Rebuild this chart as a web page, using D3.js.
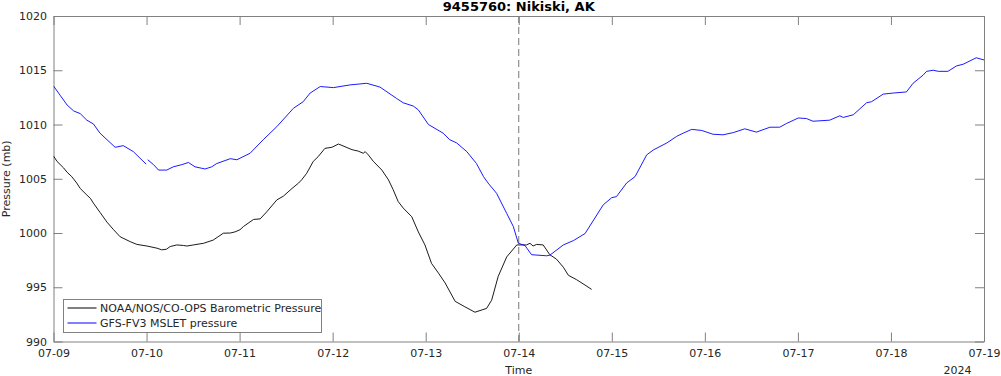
<!DOCTYPE html>
<html>
<head>
<meta charset="utf-8">
<script src="https://cdn.jsdelivr.net/npm/d3@7"></script>
<style>
  body { margin: 0; background: #fff; }
  svg { display: block; font-family: "DejaVu Sans", sans-serif; }
</style>
</head>
<body>
<div id="chart"></div>
<script>
// Series values: hours after 2024-07-09 00:00 UTC, pressure in mb
let obsHours = [0, 0.9, 2.6, 3.5, 4.7, 6.0, 6.9, 8.6, 9.5, 10.3, 12.0, 13.8, 15.5, 17.2,
  19.8, 21.5, 24.1, 26.7, 27.9, 29.1, 30.1, 31.8, 33.5, 34.4, 36.1, 37.8, 38.7, 41.2,
  43.8, 45.6, 46.8, 48.1, 49.0, 51.6, 53.3, 55.0, 57.6, 59.3, 61.5, 63.2, 64.0, 65.3,
  67.0, 68.3, 70.0, 71.8, 73.5, 75.2, 76.5, 77.3, 78.6, 79.9, 80.4, 81.2, 82.5, 84.7,
  86.4, 87.6, 88.9, 90.2, 92.4, 94.1, 95.8, 97.5, 99.3, 101.0, 103.6, 106.1, 108.7,
  111.7, 113.0, 114.7, 116.9, 119.5, 122.0, 122.9, 123.7, 124.6, 126.3, 128.0, 129.7,
  131.5, 132.8, 134.9, 137.1, 138.8];
let obsValues = [1007.1, 1006.6, 1006.0, 1005.6, 1005.2, 1004.6, 1004.1, 1003.5, 1003.2,
  1002.75, 1001.9, 1001.0, 1000.3, 999.65, 999.2, 998.95, 998.8, 998.6, 998.45, 998.5,
  998.75, 998.9, 998.85, 998.8, 998.9, 999.0, 999.05, 999.35, 999.98, 1000.0, 1000.1,
  1000.3, 1000.6, 1001.25, 1001.3, 1001.95, 1003.05, 1003.4, 1004.1, 1004.6, 1004.9,
  1005.5, 1006.6, 1007.05, 1007.8, 1007.9, 1008.2, 1007.95, 1007.75, 1007.65, 1007.55,
  1007.35, 1007.5, 1007.2, 1006.6, 1005.8, 1004.9, 1004.0, 1002.9, 1002.3, 1001.5,
  1000.1, 998.9, 997.2, 996.3, 995.4, 993.7, 993.2, 992.7, 993.05, 993.8, 996.0, 997.8,
  998.9, 998.9, 999.05, 998.8, 998.95, 998.9, 998.0, 997.6, 996.85, 996.1, 995.7, 995.2,
  994.8];

let modelHours = [0, 1.7, 3.5, 5.2, 6.9, 8.6, 10.3, 12.0, 13.8, 15.9, 18.0, 20.6, 22.3,
  23.9, 24.0, 24.3, 25.8, 27.1, 29.2, 30.9, 33.1, 34.8, 36.5, 39.1, 40.8, 42.1, 45.6,
  47.3, 50.7, 54.1, 57.6, 61.9, 64.4, 66.2, 68.8, 72.2, 76.5, 80.8, 84.2, 88.5, 90.2,
  92.8, 94.1, 96.7, 100.5, 102.2, 104.0, 106.6, 109.1, 110.9, 112.1, 114.3, 116.9,
  118.6, 119.9, 121.6, 123.3, 127.2, 128.0, 131.5, 134.1, 137.1, 141.8, 144.0, 145.2,
  147.8, 150.0, 153.0, 154.7, 158.2, 160.7, 162.4, 164.6, 167.2, 170.1, 172.7, 175.3,
  178.3, 181.3, 184.8, 187.3, 189.1, 192.1, 194.2, 195.9, 200.2, 202.8, 203.7, 206.3,
  209.7, 211.0, 214.0, 216.6, 220.0, 221.7, 224.3, 225.2, 226.9, 228.2, 230.7, 232.9,
  234.6, 238.0, 240.0];
let modelValues = [1013.55, 1012.7, 1011.8, 1011.25, 1011.0, 1010.4, 1010.05, 1009.2,
  1008.6, 1007.9, 1008.05, 1007.5, 1006.9, 1006.35, null, 1006.75, 1006.3, 1005.8,
  1005.8, 1006.1, 1006.3, 1006.5, 1006.1, 1005.9, 1006.1, 1006.4, 1006.85, 1006.75,
  1007.35, 1008.6, 1009.8, 1011.5, 1012.1, 1012.9, 1013.5, 1013.4, 1013.65, 1013.8,
  1013.45, 1012.4, 1012.0, 1011.7, 1011.35, 1010.0, 1009.2, 1008.6, 1008.3, 1007.5,
  1006.4, 1005.2, 1004.6, 1003.65, 1001.8, 1000.6, 999.05, 998.85, 998.0, 997.9, 997.95,
  998.9, 999.3, 999.95, 1002.6, 1003.26, 1003.35, 1004.6, 1005.2, 1007.2, 1007.65,
  1008.3, 1008.9, 1009.2, 1009.55, 1009.45, 1009.1, 1009.05, 1009.25, 1009.6, 1009.3,
  1009.75, 1009.75, 1010.1, 1010.6, 1010.55, 1010.3, 1010.4, 1010.8, 1010.65, 1010.9,
  1012.0, 1012.1, 1012.8, 1012.9, 1013.0, 1013.8, 1014.55, 1014.9, 1015.0, 1014.9,
  1014.9, 1015.4, 1015.55, 1016.15, 1015.95];

let seriesNames = ["NOAA/NOS/CO-OPS Barometric Pressure", "GFS-FV3 MSLET pressure"];
let seriesColors = ["#000000", "#0000ff"];
let yTicks = [990, 995, 1000, 1005, 1010, 1015, 1020];
let titleText = "9455760: Nikiski, AK";
let nowcastDate = new Date(Date.UTC(2024, 6, 14));

let width = 1001;
let height = 376;
let margin = { top: 16, right: 17, bottom: 34.5, left: 53.5 };
let plotW = width - margin.left - margin.right;
let plotH = height - margin.top - margin.bottom;
let fontSize = "11px";

let start = new Date(Date.UTC(2024, 6, 9));
let end = new Date(Date.UTC(2024, 6, 19));
let toDate = (h) => new Date(start.getTime() + h * 3600 * 1000);

let obsData = obsHours.map((h, i) => ({ t: toDate(h), v: obsValues[i] }));
let modelData = modelHours.map((h, i) => ({ t: toDate(h), v: modelValues[i] }));

let svg = d3.select("#chart")
  .append("svg")
  .attr("width", width)
  .attr("height", height);

let g = svg.append("g")
  .attr("transform", "translate(" + margin.left + "," + margin.top + ")");

let x = d3.scaleUtc().domain([start, end]).range([0, plotW]);
let y = d3.scaleLinear().domain([990, 1020]).range([plotH, 0]);

let fmt = d3.utcFormat("%m-%d");
let dayTicks = d3.utcDay.range(start, d3.utcDay.offset(end, 1));

// axes, matlab style with inward ticks and a box
let axisColor = "#808080";
let textColor = "#262626";

function styleAxis(sel) {
  sel.selectAll("path, line").attr("stroke", axisColor);
  sel.selectAll("text")
    .attr("fill", textColor)
    .style("font-size", fontSize)
    .style("font-family", "DejaVu Sans, sans-serif");
}

g.append("g")
  .attr("transform", "translate(0," + plotH + ")")
  .call(d3.axisBottom(x).tickValues(dayTicks).tickFormat(fmt)
    .tickSizeInner(-9).tickSizeOuter(0).tickPadding(7.5))
  .call(styleAxis);

g.append("g")
  .call(d3.axisTop(x).tickValues(dayTicks).tickFormat("")
    .tickSizeInner(-9).tickSizeOuter(0))
  .call(styleAxis);

g.append("g")
  .call(d3.axisLeft(y).tickValues(yTicks).tickFormat(d3.format("d"))
    .tickSizeInner(-9).tickSizeOuter(0).tickPadding(6.5))
  .call(styleAxis);

g.append("g")
  .attr("transform", "translate(" + plotW + ",0)")
  .call(d3.axisRight(y).tickValues(yTicks).tickFormat("")
    .tickSizeInner(-9).tickSizeOuter(0))
  .call(styleAxis);

// nowcast / forecast divider
g.append("line")
  .attr("x1", x(nowcastDate)).attr("x2", x(nowcastDate))
  .attr("y1", 0).attr("y2", plotH)
  .attr("stroke", "#777")
  .attr("stroke-width", 1)
  .attr("stroke-dasharray", "7,4");

svg.append("clipPath").attr("id", "clip")
  .append("rect").attr("width", plotW + 1).attr("height", plotH);

let line = d3.line()
  .defined((d) => d.v !== null)
  .x((d) => x(d.t))
  .y((d) => y(d.v));

let lines = g.append("g").attr("clip-path", "url(#clip)");

lines.append("path")
  .datum(obsData)
  .attr("fill", "none")
  .attr("stroke", seriesColors[0])
  .attr("stroke-width", 0.9)
  .attr("d", line);

lines.append("path")
  .datum(modelData)
  .attr("fill", "none")
  .attr("stroke", seriesColors[1])
  .attr("stroke-width", 0.9)
  .attr("d", line);

// title and labels
svg.append("text")
  .attr("x", margin.left + plotW / 2)
  .attr("y", 11)
  .attr("text-anchor", "middle")
  .attr("fill", "#000")
  .style("font-size", "13px")
  .style("font-weight", "bold")
  .text(titleText);

svg.append("text")
  .attr("transform", "translate(10," + (margin.top + plotH / 2) + ") rotate(-90)")
  .attr("text-anchor", "middle")
  .attr("fill", textColor)
  .style("font-size", fontSize)
  .text("Pressure (mb)");

svg.append("text")
  .attr("x", margin.left + plotW / 2)
  .attr("y", 374)
  .attr("text-anchor", "middle")
  .attr("fill", textColor)
  .style("font-size", fontSize)
  .text("Time");

svg.append("text")
  .attr("x", 957.5)
  .attr("y", 374)
  .attr("text-anchor", "middle")
  .attr("fill", textColor)
  .style("font-size", fontSize)
  .text("2024");

// legend
let legend = svg.append("g").attr("transform", "translate(63.5,299.5)");
legend.append("rect")
  .attr("width", 258)
  .attr("height", 33)
  .attr("fill", "#fff")
  .attr("stroke", axisColor);

seriesNames.forEach((name, i) => {
  let ly = 8.5 + i * 15;
  legend.append("line")
    .attr("x1", 4).attr("x2", 33)
    .attr("y1", ly).attr("y2", ly)
    .attr("stroke", seriesColors[i]);
  legend.append("text")
    .attr("x", 36.5)
    .attr("y", ly)
    .attr("dy", "0.35em")
    .attr("fill", textColor)
    .style("font-size", fontSize)
    .text(name);
});
</script>
</body>
</html>
